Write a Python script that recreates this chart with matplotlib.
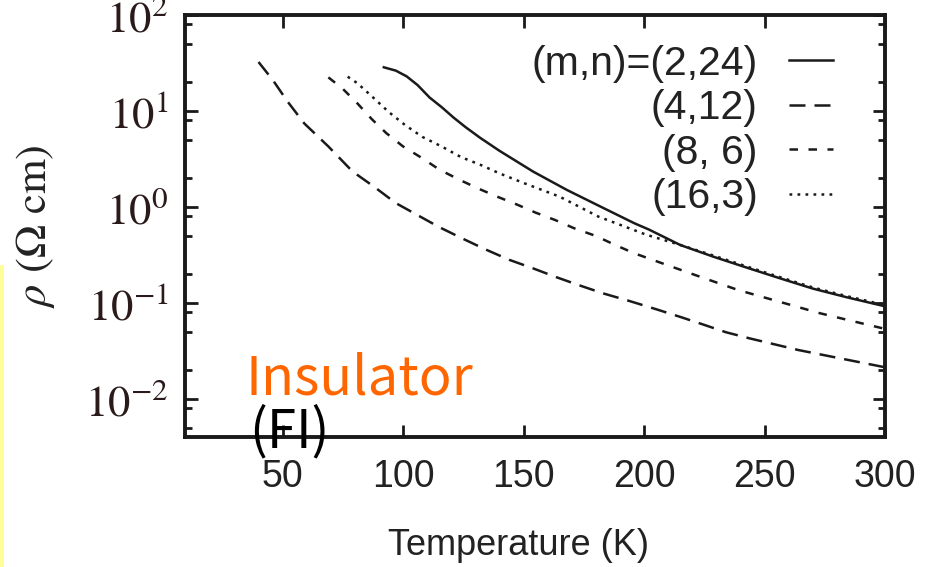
import numpy as np
import matplotlib.pyplot as plt
from matplotlib.patches import Rectangle
from matplotlib.ticker import LogLocator, NullFormatter, FuncFormatter

plt.rcParams['mathtext.fontset'] = 'stix'

# log10(rho), temperature in K
T_2_24 = [92, 97, 101.5, 106, 111, 116, 121, 126, 132, 140, 154, 168, 182, 196, 202,
          215, 229, 243, 256, 270, 284, 300]
lr_2_24 = [1.455, 1.42, 1.36, 1.27, 1.14, 1.04, 0.93, 0.83, 0.72, 0.585, 0.368, 0.177,
           0.003, -0.17, -0.235, -0.396, -0.52, -0.635, -0.74, -0.85, -0.94, -1.035]

T_4_12 = [40, 46, 52, 59, 69, 79, 88, 97, 106, 115, 125, 134, 144, 154, 163, 173, 183,
          194, 205, 215, 224, 234, 244, 254, 264, 274, 285, 295, 300]
lr_4_12 = [1.51, 1.32, 1.10, 0.87, 0.63, 0.37, 0.21, 0.04, -0.085, -0.21, -0.333, -0.44,
           -0.55, -0.64, -0.726, -0.815, -0.90, -0.98, -1.065, -1.145, -1.22, -1.305,
           -1.37, -1.43, -1.49, -1.54, -1.595, -1.645, -1.67]

T_8_6 = [69, 75, 81, 87, 93, 100, 108, 115, 123, 131, 139, 147, 155, 163, 171, 180, 188,
         196, 209, 222, 239, 256, 273, 290, 300]
lr_8_6 = [1.35, 1.23, 1.08, 0.915, 0.77, 0.63, 0.507, 0.39, 0.288, 0.194, 0.108, 0.028,
          -0.059, -0.135, -0.222, -0.302, -0.396, -0.483, -0.60, -0.716, -0.865, -0.986,
          -1.107, -1.21, -1.27]

T_16_3 = [77, 81, 88, 94, 101, 108, 116, 124, 132, 140, 150, 165, 181, 201, 215, 229,
          243, 256, 270, 284, 300]
lr_16_3 = [1.357, 1.29, 1.13, 0.99, 0.85, 0.73, 0.63, 0.52, 0.44, 0.35, 0.25, 0.107,
           -0.10, -0.29, -0.395, -0.508, -0.623, -0.728, -0.838, -0.928, -1.022]

labels = ['(m,n)=(2,24)', '(4,12)', '(8, 6)', '(16,3)']
x_ticks = [50, 100, 150, 200, 250, 300]

fig = plt.figure(figsize=(9.33, 5.67), dpi=100)
ax = fig.add_axes([0.1983, 0.2293, 0.7503, 0.7443])

lw = 1.8
ink = '#1a1a1a'
ax.plot(T_2_24, np.power(10, lr_2_24), color=ink, lw=lw, ls='-', label=labels[0])
ax.plot(T_4_12, np.power(10, lr_4_12), color=ink, lw=lw, ls=(0, (6.4, 3.6)), label=labels[1])
ax.plot(T_8_6, np.power(10, lr_8_6), color=ink, lw=lw, ls=(0, (3.4, 4.2)), label=labels[2])
ax.plot(T_16_3, np.power(10, lr_16_3), color=ink, lw=lw, ls=(0, (1.1, 2.1)), label=labels[3])

ax.set_yscale('log')
ax.set_xlim(9.5, 300)
ax.set_ylim(10 ** -2.396, 100)

ax.set_xticks(x_ticks)
ax.set_xticklabels([str(t) for t in x_ticks], fontfamily='Liberation Sans', fontsize=27,
                   color='#222222')
ax.yaxis.set_major_locator(LogLocator(base=10, numticks=10))
ax.yaxis.set_major_formatter(FuncFormatter(lambda v, p: r'$10^{%d}$' % round(np.log10(v))))
ax.yaxis.set_minor_locator(LogLocator(base=10, subs=(2, 5, 8), numticks=10))
ax.yaxis.set_minor_formatter(NullFormatter())

ax.tick_params(which='both', direction='in', top=True, right=True, width=2, color=ink)
ax.tick_params(which='major', length=9)
ax.tick_params(which='minor', length=5)
ax.tick_params(axis='x', pad=16)
ax.tick_params(axis='y', which='major', pad=12, labelsize=32, labelcolor='#2a1a1a')
for s in ax.spines.values():
    s.set_linewidth(2.8)
    s.set_color(ink)

ax.set_xlabel('Temperature (K)', family='Liberation Sans', fontsize=26, color='#222222',
              va='center')
ax.xaxis.set_label_coords(0.476, -0.256)
ax.set_ylabel(r'$\rho$ ($\Omega$ cm)', family='STIXGeneral', fontsize=32, color='#222222',
              va='center')
ax.yaxis.set_label_coords(-0.214, 0.5)

leg = ax.legend(loc='upper right', bbox_to_anchor=(0.926, 0.93), frameon=False,
                markerfirst=False, prop={'family': 'Liberation Sans', 'size': 29.5},
                handlelength=1.09, handletextpad=0.75, labelspacing=0.16,
                borderpad=0, borderaxespad=0)
for t in leg.get_texts():
    t.set_color('#222222')

ax.text(0.0857, 0.0995, 'Insulator', transform=ax.transAxes, color='#ff6600',
        fontsize=39, family=['Noto Sans CJK JP', 'DejaVu Sans'],
        ha='left', va='baseline', clip_on=False)
ax.text(0.092, 0.012, '(FI)', transform=ax.transAxes, color='black',
        fontsize=38, family=['Noto Sans CJK JP', 'DejaVu Sans'],
        ha='left', va='center', clip_on=False)

# yellow strip on the left edge of the screenshot
fig.patches.append(Rectangle((0, 0), 4 / 933, 302 / 567, transform=fig.transFigure,
                             facecolor='#ffff99', edgecolor='none'))

fig.savefig('out.png', dpi=100)
